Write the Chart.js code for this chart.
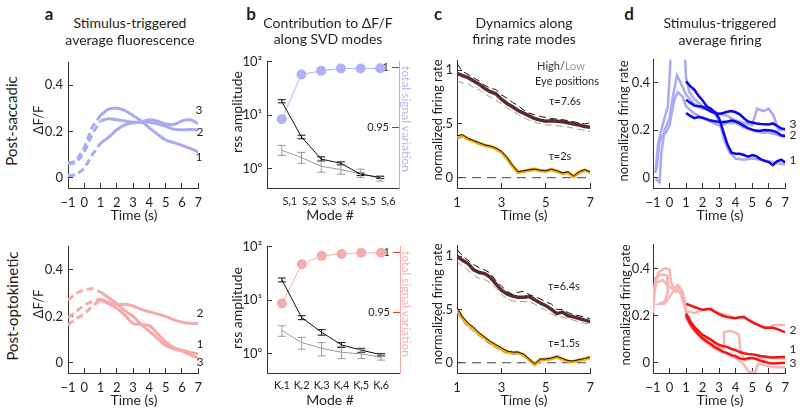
<!DOCTYPE html>
<html>
<head>
<meta charset="utf-8">
<script src="https://cdn.jsdelivr.net/npm/chart.js@4.4.0/dist/chart.umd.min.js"></script>
<style>
body { margin: 0; width: 800px; height: 413px; position: relative; background: #fff; overflow: hidden; font-family: Lato, sans-serif; color: #231f20; }
canvas { position: absolute; }
.t { position: absolute; white-space: nowrap; font-size: 14px; line-height: 1; transform: translate(-50%, -50%); }
.up { transform: translate(-50%, -50%) rotate(-90deg); }
.down { transform: translate(-50%, -50%) rotate(90deg); }
.letter { font-weight: bold; font-size: 17px; }
.ax { font-size: 13px; }
.sm { font-size: 11px; }
</style>
</head>
<body>
<canvas id="aSac"></canvas>
<canvas id="aOkn"></canvas>
<canvas id="bSac"></canvas>
<canvas id="bOkn"></canvas>
<canvas id="cSac"></canvas>
<canvas id="cOkn"></canvas>
<canvas id="dSac"></canvas>
<canvas id="dOkn"></canvas>

<div class="t letter" style="left:49px;top:13px">a</div>
<div class="t letter" style="left:251px;top:13px">b</div>
<div class="t letter" style="left:438px;top:13px">c</div>
<div class="t letter" style="left:629px;top:13px">d</div>

<div class="t" style="left:130px;top:23px">Stimulus-triggered</div>
<div class="t" style="left:130px;top:40px">average fluorescence</div>
<div class="t" style="left:328px;top:23px">Contribution to ΔF/F</div>
<div class="t" style="left:328px;top:39px">along SVD modes</div>
<div class="t" style="left:524px;top:23px">Dynamics along</div>
<div class="t" style="left:524px;top:39px">firing rate modes</div>
<div class="t" style="left:720px;top:23px">Stimulus-triggered</div>
<div class="t" style="left:720px;top:40px">average firing</div>

<div class="t up" style="left:11px;top:121px;font-size:15px">Post-saccadic</div>
<div class="t up" style="left:12px;top:306px;font-size:15px">Post-optokinetic</div>
<div class="t up ax" style="left:38px;top:120px">ΔF/F</div>
<div class="t up ax" style="left:38px;top:304px">ΔF/F</div>
<div class="t up ax" style="left:237px;top:112px;font-size:14px">rss amplitude</div>
<div class="t up ax" style="left:237px;top:308px;font-size:14px">rss amplitude</div>
<div class="t down" style="left:406px;top:119px;font-size:12px;color:#b4b4f2">total signal variation</div>
<div class="t down" style="left:406px;top:304px;font-size:12px;color:#f6b2b2">total signal variation</div>
<div class="t up ax" style="left:437px;top:120px">normalized firing rate</div>
<div class="t up ax" style="left:437px;top:304px">normalized firing rate</div>
<div class="t up ax" style="left:623px;top:121px">normalized firing rate</div>
<div class="t up ax" style="left:625px;top:305px">normalized firing rate</div>

<div class="t" style="left:134px;top:215px">Time (s)</div>
<div class="t" style="left:134px;top:400px">Time (s)</div>
<div class="t" style="left:330px;top:215px">Mode #</div>
<div class="t" style="left:330px;top:400px">Mode #</div>
<div class="t" style="left:524px;top:215px">Time (s)</div>
<div class="t" style="left:524px;top:400px">Time (s)</div>
<div class="t" style="left:720px;top:215px">Time (s)</div>
<div class="t" style="left:720px;top:400px">Time (s)</div>

<div class="t sm" style="left:199px;top:110px;font-size:12px">3</div>
<div class="t sm" style="left:200px;top:132px;font-size:12px">2</div>
<div class="t sm" style="left:199px;top:157px;font-size:12px">1</div>
<div class="t sm" style="left:200px;top:313px;font-size:12px">2</div>
<div class="t sm" style="left:200px;top:344px;font-size:12px">1</div>
<div class="t sm" style="left:200px;top:362px;font-size:12px">3</div>
<div class="t sm" style="left:793px;top:124px;font-size:12px">3</div>
<div class="t sm" style="left:793px;top:135px;font-size:12px">2</div>
<div class="t sm" style="left:793px;top:160px;font-size:12px">1</div>
<div class="t sm" style="left:793px;top:330px;font-size:12px">2</div>
<div class="t sm" style="left:793px;top:349px;font-size:12px">1</div>
<div class="t sm" style="left:793px;top:363px;font-size:12px">3</div>

<div class="t sm" style="left:561px;top:65px"><span style="color:#333">High/</span><span style="color:#999">Low</span></div>
<div class="t sm" style="left:567px;top:80px">Eye positions</div>
<div class="t sm" style="left:565px;top:100px">τ=7.6s</div>
<div class="t sm" style="left:560px;top:155px">τ=2s</div>
<div class="t sm" style="left:564px;top:285px">τ=6.4s</div>
<div class="t sm" style="left:564px;top:342px">τ=1.5s</div>

<script>
// ---- panel a: calcium traces (dashed before stimulus end, solid after)
const aTimeDash = [-1, -0.5, 0, 0.5, 1];
const aTime = [1, 1.5, 2, 2.5, 3, 3.5, 4, 4.5, 5, 5.5, 6, 6.5, 7];
const aTimeTicks = [-1, 0, 1, 2, 3, 4, 5, 6, 7];
const aValueTicks = [0, 0.2, 0.4];
const aValueLabels = ['0', '0.2', '0.4'];

const aSac1Dash = [0.065, 0.07, 0.13, 0.22, 0.27];
const aSac2Dash = [0.06, 0.065, 0.11, 0.19, 0.245];
const aSac3Dash = [0.01, 0.012, 0.04, 0.1, 0.15];
const aSac1 = [0.27, 0.296, 0.3, 0.29, 0.268, 0.245, 0.215, 0.188, 0.163, 0.152, 0.14, 0.127, 0.112];
const aSac2 = [0.245, 0.255, 0.25, 0.245, 0.24, 0.24, 0.24, 0.232, 0.222, 0.21, 0.207, 0.208, 0.207];
const aSac3 = [0.15, 0.175, 0.207, 0.228, 0.237, 0.241, 0.25, 0.244, 0.232, 0.23, 0.245, 0.25, 0.234];

const aOkn1Dash = [0.163, 0.19, 0.21, 0.245, 0.27];
const aOkn2Dash = [0.195, 0.22, 0.25, 0.265, 0.275];
const aOkn3Dash = [0.27, 0.3, 0.315, 0.32, 0.305];
const aOkn1 = [0.27, 0.255, 0.235, 0.205, 0.17, 0.165, 0.16, 0.125, 0.09, 0.065, 0.055, 0.045, 0.04];
const aOkn2 = [0.275, 0.26, 0.25, 0.252, 0.245, 0.23, 0.22, 0.21, 0.2, 0.185, 0.175, 0.17, 0.17];
const aOkn3 = [0.305, 0.28, 0.255, 0.225, 0.2, 0.165, 0.135, 0.105, 0.075, 0.06, 0.05, 0.035, 0.02];

// ---- panel b: rss amplitude per mode (log) and cumulative variance
const bModes = [1, 2, 3, 4, 5, 6];
const bSacLabels = ['Sᵣ1', 'Sᵣ2', 'Sᵣ3', 'Sᵣ4', 'Sᵣ5', 'Sᵣ6'];
const bOknLabels = ['Kᵣ1', 'Kᵣ2', 'Kᵣ3', 'Kᵣ4', 'Kᵣ5', 'Kᵣ6'];
const bAmpTicks = [1, 10, 100];
const bAmpLabels = ['10⁰', '10¹', '10²'];
const bVarTicks = [0.95, 1];
const bVarLabels = ['0.95', '1'];

const bSacAmp = [18, 3.9, 1.5, 1.25, 0.78, 0.68];
const bSacAmpLo = [17, 3.6, 1.38, 1.17, 0.74, 0.65];
const bSacAmpHi = [19.5, 4.2, 1.65, 1.33, 0.82, 0.71];
const bSacShuf = [2.2, 1.6, 1.1, 0.95, 0.8, 0.65];
const bSacShufLo = [1.75, 1.25, 0.85, 0.78, 0.68, 0.58];
const bSacShufHi = [2.7, 2.0, 1.35, 1.15, 0.97, 0.73];
const bSacVar = [0.957, 0.994, 0.997, 0.999, 0.999, 0.9992];

const bOknAmp = [24, 4.7, 2.5, 1.45, 1.15, 0.95];
const bOknAmpLo = [22, 4.3, 2.2, 1.3, 1.05, 0.9];
const bOknAmpHi = [26, 5.1, 2.8, 1.6, 1.25, 1.0];
const bOknShuf = [2.7, 1.6, 1.25, 1.05, 0.98, 0.85];
const bOknShufLo = [2.1, 1.2, 0.9, 0.8, 0.8, 0.75];
const bOknShufHi = [3.3, 2.0, 1.6, 1.35, 1.2, 0.97];
const bOknVar = [0.9575, 0.99, 0.997, 0.9985, 0.9995, 0.9995];

// ---- panel c: slow / fast firing rate modes
const cTime = [1, 1.25, 1.5, 1.75, 2, 2.25, 2.5, 2.75, 3, 3.25, 3.5, 3.75, 4, 4.25, 4.5, 4.75, 5, 5.25, 5.5, 5.75, 6, 6.25, 6.5, 6.75, 7];
const cTimeTicks = [1, 3, 5, 7];
const cValueTicks = [0, 0.5, 1];
const cValueLabels = ['0', '.5', '1'];
const cZeroTime = [1, 7];
const cZero = [0, 0];

const cSacSlow = [0.97, 0.95, 0.93, 0.9, 0.87, 0.83, 0.8, 0.78, 0.73, 0.69, 0.66, 0.625, 0.6, 0.575, 0.55, 0.535, 0.525, 0.53, 0.525, 0.52, 0.51, 0.5, 0.49, 0.475, 0.47];
const cSacSlowHigh = [1.06, 0.99, 0.96, 0.93, 0.9, 0.86, 0.83, 0.82, 0.77, 0.74, 0.7, 0.67, 0.63, 0.6, 0.585, 0.57, 0.56, 0.55, 0.545, 0.54, 0.53, 0.52, 0.51, 0.5, 0.51];
const cSacSlowLow = [0.9, 0.88, 0.87, 0.84, 0.82, 0.78, 0.75, 0.72, 0.69, 0.65, 0.62, 0.59, 0.56, 0.535, 0.515, 0.5, 0.49, 0.49, 0.485, 0.475, 0.47, 0.46, 0.45, 0.44, 0.43];
const cSacFast = [0.38, 0.39, 0.36, 0.34, 0.32, 0.3, 0.29, 0.27, 0.24, 0.18, 0.11, 0.05, 0.06, 0.07, 0.078, 0.065, 0.06, 0.075, 0.06, 0.04, 0.05, 0.01, 0.05, 0.07, 0.05];
const cSacFastHigh = [0.39, 0.4, 0.365, 0.345, 0.325, 0.305, 0.295, 0.275, 0.245, 0.19, 0.115, 0.055, 0.065, 0.075, 0.08, 0.07, 0.065, 0.08, 0.065, 0.045, 0.055, 0.015, 0.055, 0.075, 0.055];
const cSacFastLow = [0.36, 0.375, 0.35, 0.33, 0.31, 0.29, 0.28, 0.26, 0.23, 0.17, 0.1, 0.045, 0.055, 0.065, 0.072, 0.06, 0.055, 0.07, 0.055, 0.035, 0.045, 0.005, 0.045, 0.065, 0.045];

const cOknSlow = [1.0, 0.96, 0.93, 0.87, 0.845, 0.835, 0.8, 0.74, 0.68, 0.645, 0.625, 0.615, 0.615, 0.62, 0.59, 0.56, 0.535, 0.5, 0.46, 0.475, 0.44, 0.43, 0.415, 0.4, 0.385];
const cOknSlowHigh = [1.06, 1.0, 0.96, 0.92, 0.89, 0.87, 0.84, 0.77, 0.72, 0.67, 0.64, 0.66, 0.67, 0.64, 0.62, 0.6, 0.57, 0.55, 0.5, 0.5, 0.47, 0.45, 0.44, 0.43, 0.41];
const cOknSlowLow = [0.95, 0.9, 0.87, 0.82, 0.79, 0.78, 0.75, 0.7, 0.64, 0.6, 0.58, 0.575, 0.575, 0.57, 0.55, 0.52, 0.49, 0.46, 0.43, 0.43, 0.41, 0.4, 0.38, 0.37, 0.36];
const cOknFast = [0.5, 0.42, 0.36, 0.32, 0.27, 0.23, 0.19, 0.16, 0.13, 0.1, 0.094, 0.095, 0.075, 0.03, -0.015, 0.03, 0.03, 0.04, 0.055, 0.035, 0.015, 0.012, 0.025, 0.035, 0.05];
const cOknFastHigh = [0.52, 0.43, 0.37, 0.33, 0.28, 0.24, 0.2, 0.17, 0.14, 0.11, 0.1, 0.1, 0.08, 0.035, -0.01, 0.035, 0.035, 0.045, 0.06, 0.04, 0.02, 0.017, 0.03, 0.04, 0.055];
const cOknFastLow = [0.47, 0.39, 0.33, 0.29, 0.25, 0.21, 0.17, 0.14, 0.11, 0.085, 0.08, 0.08, 0.06, 0.02, -0.025, 0.02, 0.02, 0.03, 0.045, 0.025, 0.005, 0.002, 0.015, 0.025, 0.04];

// ---- panel d: firing rate traces, model (dark) over data (light)
const dTime = cTime;
const dTimeTicks = aTimeTicks;

const dSac1 = [0.405, 0.385, 0.37, 0.345, 0.325, 0.3, 0.29, 0.275, 0.25, 0.195, 0.14, 0.105, 0.1, 0.1, 0.095, 0.088, 0.095, 0.09, 0.078, 0.07, 0.065, 0.052, 0.068, 0.075, 0.064];
const dSac2 = [0.272, 0.26, 0.25, 0.255, 0.252, 0.246, 0.24, 0.237, 0.235, 0.234, 0.236, 0.24, 0.236, 0.228, 0.218, 0.208, 0.202, 0.197, 0.197, 0.2, 0.199, 0.197, 0.19, 0.178, 0.175];
const dSac3 = [0.328, 0.315, 0.303, 0.3, 0.298, 0.288, 0.278, 0.272, 0.268, 0.272, 0.277, 0.28, 0.275, 0.266, 0.25, 0.236, 0.232, 0.228, 0.226, 0.225, 0.224, 0.228, 0.218, 0.207, 0.204];
const dSacLight1Time = [-0.85, -0.7, -0.5, -0.3, -0.1, 0, 0.1, 0.5, 0.9, 1, 1.2, 1.5, 2, 2.5, 3, 3.3, 3.6, 4, 4.5, 5, 5.5, 6, 6.5, 7];
const dSacLight1 = [0.02, 0.14, 0.2, 0.25, 0.3, 0.42, 0.55, 0.8, 0.55, 0.42, 0.36, 0.33, 0.3, 0.29, 0.24, 0.16, 0.11, 0.08, 0.075, 0.08, 0.075, 0.07, 0.06, 0.055];
const dSacLight2Time = [-0.85, -0.6, -0.5, -0.3, 0, 0.2, 0.45, 0.6, 0.8, 1, 1.5, 2, 2.5, 3, 3.5, 4, 4.5, 5, 5.3, 5.7, 6, 6.3, 6.6, 7];
const dSacLight2 = [-0.005, -0.02, 0.1, 0.2, 0.25, 0.34, 0.43, 0.41, 0.38, 0.35, 0.31, 0.29, 0.285, 0.27, 0.26, 0.24, 0.23, 0.22, 0.29, 0.28, 0.29, 0.26, 0.2, 0.2];
const dSacLight3Time = [-0.8, -0.6, -0.4, -0.2, 0, 0.3, 0.5, 0.8, 1, 1.5, 2, 2.5, 3, 3.5, 4, 4.5, 5, 5.5, 6, 6.5, 7];
const dSacLight3 = [0.03, 0.15, 0.18, 0.19, 0.22, 0.33, 0.36, 0.34, 0.3, 0.27, 0.25, 0.235, 0.22, 0.23, 0.23, 0.21, 0.2, 0.19, 0.19, 0.18, 0.17];

const dOkn1 = [0.208, 0.176, 0.152, 0.135, 0.118, 0.108, 0.098, 0.085, 0.075, 0.07, 0.066, 0.058, 0.053, 0.045, 0.04, 0.037, 0.035, 0.032, 0.028, 0.026, 0.024, 0.022, 0.023, 0.024, 0.024];
const dOkn2 = [0.25, 0.243, 0.236, 0.23, 0.224, 0.226, 0.226, 0.215, 0.206, 0.198, 0.193, 0.19, 0.188, 0.193, 0.195, 0.182, 0.172, 0.163, 0.155, 0.148, 0.148, 0.148, 0.143, 0.136, 0.128];
const dOkn3 = [0.2, 0.166, 0.14, 0.12, 0.103, 0.09, 0.078, 0.065, 0.056, 0.047, 0.04, 0.032, 0.027, 0.018, 0.014, 0.019, 0.02, 0.015, 0.008, 0.004, -0.002, -0.004, -0.003, -0.002, -0.001];
const dOknLight1Time = [-1, -0.9, -0.7, -0.3, 0, 0.1, 0.4, 0.6, 0.8, 1, 1.5, 2, 2.5, 3, 3.5, 4, 4.5, 5, 5.5, 6, 6.3, 7];
const dOknLight1 = [0.21, 0.3, 0.38, 0.4, 0.395, 0.34, 0.3, 0.32, 0.26, 0.22, 0.21, 0.225, 0.23, 0.21, 0.2, 0.19, 0.19, 0.175, 0.155, 0.15, 0.16, 0.16];
const dOknLight2Time = [-1, -0.85, -0.5, -0.15, -0.1, -0.3, -0.6, -0.3, 0.2, 0.5, 0.8, 1, 1.3, 1.7, 2, 2.5, 3, 3.3, 3.3, 3.7, 4.2, 4.3, 4.6, 5, 5.5, 6, 6.5, 7];
const dOknLight2 = [0.27, 0.36, 0.375, 0.37, 0.3, 0.26, 0.25, 0.25, 0.3, 0.33, 0.3, 0.22, 0.17, 0.13, 0.11, 0.085, 0.065, 0.06, 0.13, 0.135, 0.12, 0.04, 0.01, 0.02, 0.02, 0.02, 0.02, 0.015];
const dOknLight3Time = [-1, -0.8, -0.4, 0, 0.3, 0.6, 0.9, 1, 1.3, 1.7, 2, 2.5, 3, 3.5, 4, 4.4, 4.8, 5.2, 5.35, 5.8, 6.3, 7];
const dOknLight3 = [0.3, 0.34, 0.35, 0.32, 0.31, 0.3, 0.27, 0.19, 0.15, 0.12, 0.095, 0.07, 0.05, 0.035, 0.02, 0.0, -0.04, -0.04, -0.005, -0.01, -0.02, -0.02];

// ---- colours
const lavender = '#a9a9f4';
const pink = '#f6a9a9';
const darkBlue = '#0c0ce2';
const red = '#f01616';
const lightPink = '#f7b6b6';
const brown = '#5c2a2a';
const orange = '#f5aa12';
const axisColor = '#333';

Chart.defaults.font.family = 'Lato, sans-serif';
Chart.defaults.color = '#231f20';

function line(xs, ys, color, width, dash, extra) {
  return Object.assign({
    data: xs.map((x, i) => ({ x: x, y: ys[i] })),
    borderColor: color,
    borderWidth: width,
    borderDash: dash || [],
    pointRadius: 0,
    tension: 0,
    fill: false
  }, extra || {});
}

function scale(pos, min, max, tickVals, tickText, o) {
  o = o || {};
  const len = o.tickLen === undefined ? 5 : o.tickLen;
  return {
    type: o.type || 'linear',
    position: pos,
    min: min,
    max: max,
    afterBuildTicks: s => { s.ticks = tickVals.map(v => ({ value: v })); },
    afterFit: s => { if (pos === 'bottom') s.height = o.size; else s.width = o.size; },
    border: { display: true, color: o.axisColor || axisColor, width: 1 },
    grid: { drawOnChartArea: false, drawTicks: len !== 0, tickLength: -len, tickColor: o.tickColor || axisColor, tickWidth: 1 },
    ticks: {
      padding: o.padding,
      autoSkip: false,
      maxRotation: 0,
      mirror: !!o.mirror,
      labelOffset: o.labelOffset || 0,
      color: '#231f20',
      font: { size: o.fontSize || 13 },
      callback: (v, i) => tickText[i]
    }
  };
}

// error bars drawn from the dataset's lo/hi arrays through the chart scales
const errorBars = {
  id: 'errorBars',
  afterDatasetsDraw(chart) {
    const ctx = chart.ctx;
    chart.data.datasets.forEach(ds => {
      if (!ds.errLo) return;
      const xs = chart.scales.x, ys = chart.scales[ds.yAxisID || 'y'];
      ctx.save();
      ctx.strokeStyle = ds.borderColor;
      ctx.lineWidth = 1;
      ds.data.forEach((p, j) => {
        const px = xs.getPixelForValue(p.x);
        const lo = ys.getPixelForValue(ds.errLo[j]);
        const hi = ys.getPixelForValue(ds.errHi[j]);
        ctx.beginPath();
        ctx.moveTo(px, lo); ctx.lineTo(px, hi);
        ctx.moveTo(px - 4, lo); ctx.lineTo(px + 4, lo);
        ctx.moveTo(px - 4, hi); ctx.lineTo(px + 4, hi);
        ctx.stroke();
      });
      ctx.restore();
    });
  }
};

// place a canvas so that its chart area lands on box (page coords)
function panel(id, box, pad, datasets, scales, plugins, padRight) {
  const c = document.getElementById(id);
  c.width = box.x1 - box.x0 + pad.l + pad.r;
  c.height = box.y1 - box.y0 + pad.t + pad.b;
  c.style.left = (box.x0 - pad.l) + 'px';
  c.style.top = (box.y0 - pad.t) + 'px';
  return new Chart(c, {
    type: 'line',
    data: { datasets: datasets },
    options: {
      responsive: false,
      animation: false,
      events: [],
      layout: { padding: { left: 0, top: pad.t, right: padRight === undefined ? pad.r : padRight, bottom: 0 } },
      plugins: { legend: { display: false }, tooltip: { enabled: false } },
      scales: scales
    },
    plugins: plugins || []
  });
}

const pad = { l: 45, r: 12, t: 8, b: 30 };
const timeLabels = aTimeTicks.map(String).map(s => s.replace('-', '−'));

// ---- a
panel('aSac', { x0: 68, x1: 202, y0: 53, y1: 188 }, pad, [
  line(aTimeDash, aSac1Dash, lavender, 3, [7, 4]),
  line(aTimeDash, aSac2Dash, lavender, 3, [7, 4]),
  line(aTimeDash, aSac3Dash, lavender, 3, [7, 4]),
  line(aTime, aSac1, lavender, 3, [], { tension: 0.4 }),
  line(aTime, aSac2, lavender, 3, [], { tension: 0.4 }),
  line(aTime, aSac3, lavender, 3, [], { tension: 0.4 })
], {
  x: scale('bottom', -1, 7, aTimeTicks, timeLabels, { size: pad.b, padding: 12 }),
  y: scale('left', -0.044, 0.496, aValueTicks, aValueLabels, { size: pad.l, padding: 10 })
});

panel('aOkn', { x0: 68, x1: 202, y0: 237, y1: 373 }, pad, [
  line(aTimeDash, aOkn1Dash, pink, 3, [7, 4]),
  line(aTimeDash, aOkn2Dash, pink, 3, [7, 4]),
  line(aTimeDash, aOkn3Dash, pink, 3, [7, 4]),
  line(aTime, aOkn1, pink, 3, [], { tension: 0.4 }),
  line(aTime, aOkn2, pink, 3, [], { tension: 0.4 }),
  line(aTime, aOkn3, pink, 3, [], { tension: 0.4 })
], {
  x: scale('bottom', -1, 7, aTimeTicks, timeLabels, { size: pad.b, padding: 12 }),
  y: scale('left', -0.044, 0.5, aValueTicks, aValueLabels, { size: pad.l, padding: 10 })
});

// ---- b
const bPad = { l: 45, r: 14, t: 8, b: 30 };
function bPanel(id, box, labels, amp, ampLo, ampHi, shuf, shufLo, shufHi, cum, dotColor, tickColor, offset, labelPad) {
  panel(id, box, bPad, [
    line(bModes, amp, '#111', 1, [], { errLo: ampLo, errHi: ampHi }),
    line(bModes, shuf, '#9a9a9a', 1, [], { errLo: shufLo, errHi: shufHi }),
    line(bModes, cum, dotColor, 1, [], { yAxisID: 'y2', pointRadius: 5, pointBackgroundColor: dotColor, pointBorderWidth: 0 })
  ], {
    x: scale('bottom', 0.25, 6.95, bModes, labels, { size: bPad.b, padding: labelPad, tickLen: 0, fontSize: 11, labelOffset: offset }),
    y: scale('left', 0.43, 100, bAmpTicks, bAmpLabels, { type: 'logarithmic', size: bPad.l, padding: 10 }),
    y2: scale('right', 0.9, 1.0045, bVarTicks, bVarLabels, { size: bPad.r, padding: -10, mirror: true, tickLen: 7, fontSize: 11, axisColor: dotColor, tickColor: tickColor })
  }, [errorBars], 0);
}
bPanel('bSac', { x0: 267, x1: 399, y0: 52, y1: 188 }, bSacLabels, bSacAmp, bSacAmpLo, bSacAmpHi, bSacShuf, bSacShufLo, bSacShufHi, bSacVar, '#b0b0f5', '#3c3cf0', 8, 7);
bPanel('bOkn', { x0: 267, x1: 400, y0: 237, y1: 373 }, bOknLabels, bOknAmp, bOknAmpLo, bOknAmpHi, bOknShuf, bOknShufLo, bOknShufHi, bOknVar, '#f7acac', '#f03434', 0, 6);

// ---- c
function cPanel(id, box, slow, slowHi, slowLo, fast, fastHi, fastLo, yMax) {
  panel(id, box, pad, [
    line(cTime, fastHi, '#111', 1, []),
    line(cTime, fast, orange, 3.5, []),
    line(cTime, fastLo, '#9a9a9a', 1, [6, 4]),
    line(cTime, slowHi, '#111', 1, [7, 4]),
    line(cTime, slowLo, '#9a9a9a', 1, [7, 4]),
    line(cTime, slow, brown, 3.5, []),
    line(cZeroTime, cZero, '#444', 1, [9, 6])
  ], {
    x: scale('bottom', 1, 7, cTimeTicks, cTimeTicks.map(String), { size: pad.b, padding: 12 }),
    y: scale('left', -0.096, yMax, cValueTicks, cValueLabels, { size: pad.l, padding: 9 })
  });
}
cPanel('cSac', { x0: 457, x1: 594, y0: 52, y1: 188 }, cSacSlow, cSacSlowHigh, cSacSlowLow, cSacFast, cSacFastHigh, cSacFastLow, 1.087);
cPanel('cOkn', { x0: 457, x1: 594, y0: 237, y1: 373 }, cOknSlow, cOknSlowHigh, cOknSlowLow, cOknFast, cOknFastHigh, cOknFastLow, 1.096);

// ---- d
panel('dSac', { x0: 653, x1: 789, y0: 52, y1: 188 }, pad, [
  line(dTime, dSac1, darkBlue, 2.5, []),
  line(dTime, dSac2, darkBlue, 2.5, []),
  line(dTime, dSac3, darkBlue, 2.5, []),
  line(dSacLight1Time, dSacLight1, lavender, 2.5, []),
  line(dSacLight2Time, dSacLight2, lavender, 2.5, []),
  line(dSacLight3Time, dSacLight3, lavender, 2.5, [])
], {
  x: scale('bottom', -1, 7, dTimeTicks, timeLabels, { size: pad.b, padding: 12 }),
  y: scale('left', -0.044, 0.496, aValueTicks, aValueLabels, { size: pad.l, padding: 8 })
});

panel('dOkn', { x0: 653, x1: 789, y0: 237, y1: 373 }, pad, [
  line(dTime, dOkn1, red, 2.5, []),
  line(dTime, dOkn2, red, 2.5, []),
  line(dTime, dOkn3, red, 2.5, []),
  line(dOknLight1Time, dOknLight1, lightPink, 2.5, []),
  line(dOknLight2Time, dOknLight2, lightPink, 2.5, []),
  line(dOknLight3Time, dOknLight3, lightPink, 2.5, [])
], {
  x: scale('bottom', -1, 7, dTimeTicks, timeLabels, { size: pad.b, padding: 12 }),
  y: scale('left', -0.044, 0.5, aValueTicks, aValueLabels, { size: pad.l, padding: 8 })
});
</script>
</body>
</html>
